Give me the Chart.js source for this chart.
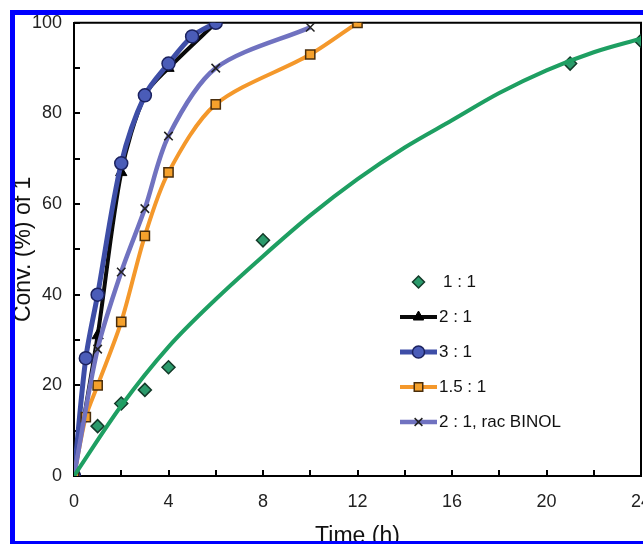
<!DOCTYPE html>
<html>
<head>
<meta charset="utf-8">
<script src="https://cdn.jsdelivr.net/npm/chart.js@4.4.1/dist/chart.umd.min.js"></script>
<style>
  html, body { margin: 0; padding: 0; background: #fff; overflow: hidden; width: 643px; height: 544px; }
  #wrap { position: absolute; left: 0; top: 0; width: 680px; height: 560px; }
  .frame { position: absolute; background: #0000ff; }
  .blank { position: absolute; background: #fff; }
</style>
</head>
<body>
<div id="wrap"><canvas id="c" width="680" height="560"></canvas></div>
<div class="blank" style="left:0;top:0;width:643px;height:10px"></div>
<div class="blank" style="left:0;top:0;width:10px;height:544px"></div>
<div class="frame" style="left:10px;top:10px;width:640px;height:5px"></div>
<div class="frame" style="left:10px;top:10px;width:5px;height:540px"></div>
<div class="frame" style="left:10px;top:541px;width:640px;height:5px"></div>
<script>
// ---- data ----
const legendLabels = ['1 : 1', '2 : 1', '3 : 1', '1.5 : 1', '2 : 1, rac BINOL'];

const time11 = [0, 1, 2, 3, 4, 8, 21, 24];
const conv11 = [0, 11, 16, 19, 24, 52, 91, 96];

const fitTime = [0, 2, 4, 6, 8, 10, 12, 14, 16, 18, 20, 22, 24];
const fitConv = [0, 15.5, 28.5, 39, 48.5, 57.5, 65.5, 72.5, 78.5, 84.5, 89.5, 93.5, 96.5];

const time21 = [0, 1, 2, 3, 4, 6];
const conv21 = [0, 31, 67, 84, 90, 100];

const time31 = [0, 0.5, 1, 2, 3, 4, 5, 6];
const conv31 = [0, 26, 40, 69, 84, 91, 97, 100];

const time15 = [0, 0.5, 1, 2, 3, 4, 6, 10, 12];
const conv15 = [0, 13, 20, 34, 53, 67, 82, 93, 100];

const timeRac = [0, 1, 2, 3, 4, 6, 10];
const convRac = [0, 28, 45, 59, 75, 90, 99];

const xTickMax = 24, xStep = 2, xLabelEvery = 4;
const yTickMax = 100, yStep = 10, yLabelEvery = 20;

const pts = (xs, ys) => xs.map((x, i) => ({ x: x, y: ys[i] }));

const FONT = "'Liberation Sans', Arial, sans-serif";

const datasets = [
  { label: legendLabels[0], data: pts(time11, conv11), showLine: false,
    pointStyle: 'rectRot', pointRadius: 6.5, pointBackgroundColor: '#2b9a6b',
    pointBorderColor: '#143b2a', pointBorderWidth: 1.5, order: 10, legendLine: false },
  { label: 'fit', data: pts(fitTime, fitConv), showLine: true, borderColor: '#1e9f62',
    borderWidth: 4, pointRadius: 0, cubicInterpolationMode: 'monotone', order: 1, noLegend: true },
  { label: legendLabels[1], data: pts(time21, conv21), showLine: true, borderColor: '#0a0a0a',
    borderWidth: 4, tension: 0.3, pointStyle: 'triangle', pointRadius: 6.5,
    pointBackgroundColor: '#000', pointBorderColor: '#000', pointBorderWidth: 1, order: 5, legendLine: true },
  { label: legendLabels[2], data: pts(time31, conv31), showLine: true, borderColor: '#3e4ea7',
    borderWidth: 5, tension: 0.3, pointStyle: 'circle', pointRadius: 6.5,
    pointBackgroundColor: '#4a5cb8', pointBorderColor: '#1b2260', pointBorderWidth: 1.5, order: 4, legendLine: true },
  { label: legendLabels[3], data: pts(time15, conv15), showLine: true, borderColor: '#f4982b',
    borderWidth: 4, tension: 0.3, pointStyle: 'rect', pointRadius: 6.5,
    pointBackgroundColor: '#f5a12c', pointBorderColor: '#4a2e0c', pointBorderWidth: 1.5, order: 3, legendLine: true },
  { label: legendLabels[4], data: pts(timeRac, convRac), showLine: true, borderColor: '#7072c0',
    borderWidth: 4.5, tension: 0.3, pointStyle: 'crossRot', pointRadius: 6,
    pointBackgroundColor: '#222', pointBorderColor: '#222', pointBorderWidth: 1.5, order: 2, legendLine: true }
];

const framePlugin = {
  id: 'framePlugin',
  beforeDatasetsDraw(chart) {
    const ctx = chart.ctx, a = chart.chartArea;
    ctx.save();
    ctx.strokeStyle = '#000';
    ctx.lineWidth = 2;
    ctx.beginPath();
    ctx.moveTo(a.left, a.top); ctx.lineTo(a.right, a.top); ctx.lineTo(a.right, a.bottom);
    ctx.stroke();
    const len = 6;
    chart.scales.y.ticks.forEach(t => {
      const py = Math.round(chart.scales.y.getPixelForValue(t.value));
      ctx.beginPath(); ctx.moveTo(a.left, py); ctx.lineTo(a.left + len, py); ctx.stroke();
    });
    chart.scales.x.ticks.forEach(t => {
      const px = Math.round(chart.scales.x.getPixelForValue(t.value));
      ctx.beginPath(); ctx.moveTo(px, a.bottom); ctx.lineTo(px, a.bottom - len); ctx.stroke();
    });
    ctx.restore();
  }
};

const legendPlugin = {
  id: 'customLegend',
  afterDraw(chart, args, opts) {
    const ctx = chart.ctx;
    ctx.save();
    ctx.font = opts.font;
    ctx.fillStyle = '#111';
    ctx.textBaseline = 'middle';
    let row = 0;
    chart.data.datasets.forEach(ds => {
      if (ds.noLegend) return;
      const y = opts.top + row * opts.step;
      const xm = (opts.lineStart + opts.lineEnd) / 2;
      if (ds.legendLine) {
        ctx.strokeStyle = ds.borderColor;
        ctx.lineWidth = ds.borderWidth;
        ctx.beginPath(); ctx.moveTo(opts.lineStart, y); ctx.lineTo(opts.lineEnd, y); ctx.stroke();
      }
      ctx.fillStyle = ds.pointBackgroundColor;
      ctx.strokeStyle = ds.pointBorderColor;
      ctx.lineWidth = ds.pointBorderWidth;
      Chart.helpers.drawPoint(ctx, { pointStyle: ds.pointStyle, radius: ds.pointRadius - 0.5, rotation: 0, borderWidth: ds.pointBorderWidth }, xm, y);
      ctx.fillStyle = '#111';
      ctx.textAlign = 'left';
      ctx.fillText(ds.label, ds.legendLine ? opts.textX : opts.textX + 4, y);
      row++;
    });
    ctx.restore();
  }
};

new Chart(document.getElementById('c'), {
  type: 'scatter',
  data: { datasets: datasets },
  options: {
    responsive: false,
    animation: false,
    devicePixelRatio: 1,
    layout: { padding: { top: 20, right: 39, bottom: 0, left: 0 } },
    plugins: {
      legend: { display: false },
      tooltip: { enabled: false },
      customLegend: { font: "17px " + FONT, top: 282, step: 35, lineStart: 400, lineEnd: 437, textX: 439 }
    },
    scales: {
      x: {
        type: 'linear', min: 0, max: xTickMax,
        grid: { display: false, drawTicks: false },
        border: { display: true, color: '#000', width: 2 },
        ticks: { stepSize: xStep, autoSkip: false, maxRotation: 0, padding: 15, color: '#222',
          font: { family: FONT, size: 18 },
          callback: v => (v % xLabelEvery === 0 ? v : '') },
        title: { display: true, text: 'Time (h)', color: '#111', font: { family: FONT, size: 23 },
          padding: { top: 0, bottom: 10 } },
        afterFit: s => { s.height = 84; }
      },
      y: {
        type: 'linear', min: 0, max: yTickMax,
        grid: { display: false, drawTicks: false },
        border: { display: true, color: '#000', width: 2 },
        ticks: { stepSize: yStep, autoSkip: false, padding: 12, color: '#222',
          font: { family: FONT, size: 18 },
          callback: v => (v % yLabelEvery === 0 ? v : '') },
        title: { display: true, text: 'Conv. (%) of 1', color: '#111', font: { family: FONT, size: 23 },
          padding: { top: 10, bottom: 0 } },
        afterFit: s => { s.width = 74; }
      }
    }
  },
  plugins: [framePlugin, legendPlugin]
});
</script>
</body>
</html>
